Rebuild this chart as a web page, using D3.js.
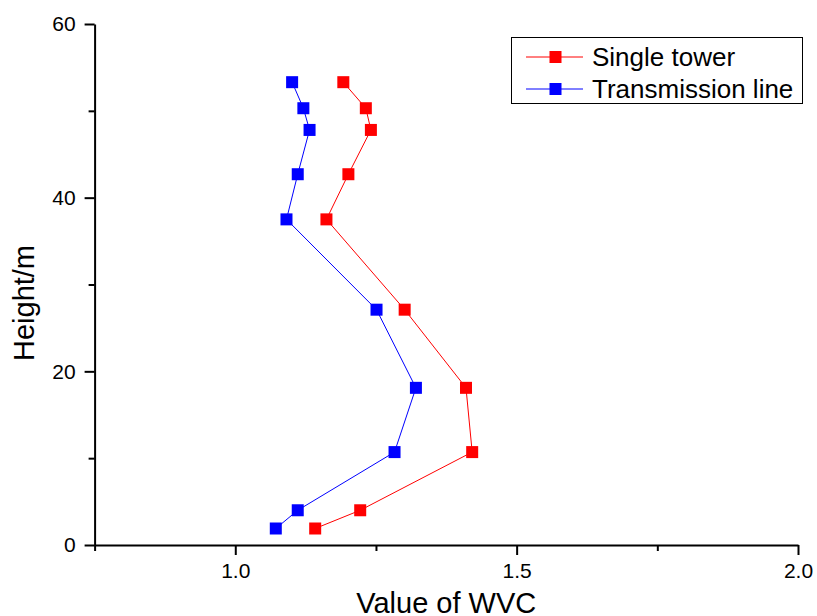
<!DOCTYPE html>
<html lang="en">

<head>
  <meta charset="UTF-8" />
  <script src="https://d3js.org/d3.v7.min.js"></script>
  <title>WVC vs Height</title>
  <style>
    body { margin: 0; background: #fff; }
    text { font-family: "Liberation Sans", Arial, sans-serif; fill: #000; }
  </style>
</head>

<body>
  <svg width="817" height="616"></svg>

  <script>
    const svg = d3.select("svg");

    // Data
    const heights = [1.9, 4.0, 10.7, 18.1, 27.1, 37.5, 42.7, 47.8, 50.3, 53.3];
    const singleTower = [1.142, 1.222, 1.421, 1.410, 1.301, 1.162, 1.201, 1.241, 1.232, 1.192];
    const transmissionLine = [1.072, 1.111, 1.283, 1.321, 1.251, 1.091, 1.111, 1.132, 1.121, 1.101];
    const seriesNames = ["Single tower", "Transmission line"];
    const seriesColors = ["#ff0000", "#0000ff"];
    const xTicks = [1.0, 1.5, 2.0];
    const xMinor = [0.75, 1.25, 1.75];
    const yTicks = [0, 20, 40, 60];
    const yMinor = [10, 30, 50];

    const margin = { top: 24, right: 19, bottom: 71, left: 94.6 };
    const width = 817 - margin.left - margin.right;
    const height = 616 - margin.top - margin.bottom;

    const x = d3.scaleLinear().domain([0.75, 2.0]).range([0, width]);
    const y = d3.scaleLinear().domain([0, 60]).range([height, 0]);

    const chart = svg.append("g")
      .attr("transform", `translate(${margin.left},${margin.top})`);

    // minor ticks
    chart.append("g")
      .attr("transform", `translate(0,${height})`)
      .call(d3.axisBottom(x).tickValues(xMinor).tickSize(6).tickSizeOuter(0).tickFormat(""))
      .call(g => g.select(".domain").remove())
      .selectAll("line").attr("stroke-width", 2);
    chart.append("g")
      .call(d3.axisLeft(y).tickValues(yMinor).tickSize(6).tickSizeOuter(0).tickFormat(""))
      .call(g => g.select(".domain").remove())
      .selectAll("line").attr("stroke-width", 2);

    // major axes
    const xAxis = chart.append("g")
      .attr("transform", `translate(0,${height})`)
      .call(d3.axisBottom(x).tickValues(xTicks).tickSize(10).tickSizeOuter(0).tickPadding(8).tickFormat(d3.format(".1f")));
    const yAxis = chart.append("g")
      .call(d3.axisLeft(y).tickValues(yTicks).tickSize(10).tickSizeOuter(0).tickPadding(9));

    [xAxis, yAxis].forEach(a => {
      a.select(".domain").attr("stroke-width", 2);
      a.selectAll("line").attr("stroke-width", 2);
      a.selectAll("text").attr("font-size", 21).attr("font-family", "Liberation Sans, Arial, sans-serif");
    });

    // axis titles
    svg.append("text")
      .attr("x", margin.left + width / 2)
      .attr("y", 613)
      .attr("text-anchor", "middle")
      .attr("font-size", 29)
      .text("Value of WVC");

    svg.append("text")
      .attr("transform", "translate(33.5,303) rotate(-90)")
      .attr("text-anchor", "middle")
      .attr("font-size", 29)
      .text("Height/m");

    // series
    const series = [singleTower, transmissionLine];
    const line = d3.line().x(d => x(d[0])).y(d => y(d[1]));

    series.forEach((vals, i) => {
      const pts = vals.map((v, j) => [v, heights[j]]);
      chart.append("path")
        .datum(pts)
        .attr("fill", "none")
        .attr("stroke", seriesColors[i])
        .attr("stroke-width", 1)
        .attr("d", line);
      chart.selectAll(null)
        .data(pts)
        .enter()
        .append("rect")
        .attr("x", d => x(d[0]) - 6)
        .attr("y", d => y(d[1]) - 6)
        .attr("width", 12)
        .attr("height", 12)
        .attr("fill", seriesColors[i]);
    });

    // legend
    const legend = svg.append("g").attr("transform", "translate(511,37)");
    legend.append("rect")
      .attr("x", 0.5).attr("y", 0.5)
      .attr("width", 291).attr("height", 66)
      .attr("fill", "#fff")
      .attr("stroke", "#000")
      .attr("stroke-width", 1);

    seriesNames.forEach((name, i) => {
      const cy = 20 + i * 32;
      const row = legend.append("g").attr("transform", `translate(0,${cy})`);
      row.append("line")
        .attr("x1", 15).attr("x2", 72)
        .attr("y1", 0).attr("y2", 0)
        .attr("stroke", seriesColors[i])
        .attr("stroke-width", 1);
      row.append("rect")
        .attr("x", 38.5).attr("y", -6)
        .attr("width", 12).attr("height", 12)
        .attr("fill", seriesColors[i]);
      row.append("text")
        .attr("x", 81)
        .attr("y", 8.5)
        .attr("font-size", 26)
        .text(name);
    });
  </script>
</body>

</html>
